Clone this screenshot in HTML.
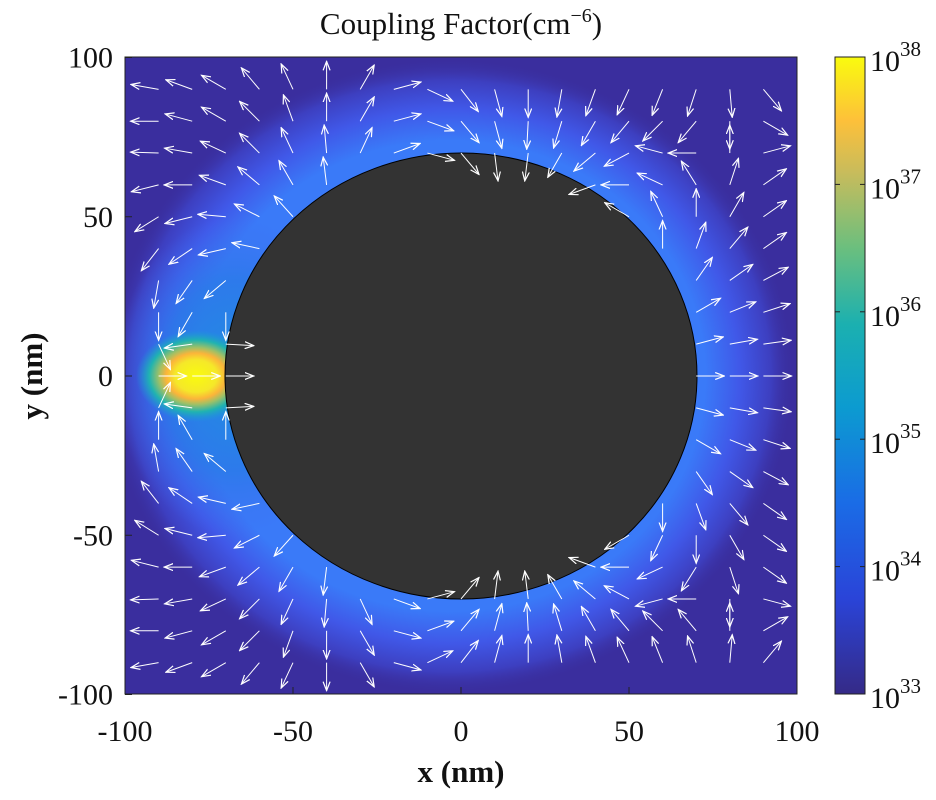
<!DOCTYPE html>
<html><head><meta charset="utf-8"><style>
body{margin:0;background:#fff}
svg text{font-family:"Liberation Serif",serif;fill:#111}
</style></head><body>
<svg id="s" width="936" height="795" xmlns="http://www.w3.org/2000/svg">
<defs>
<clipPath id="pc"><rect x="125" y="57" width="672" height="637"/></clipPath>
<radialGradient id="halo" cx="0.5" cy="0.5" r="0.5">
<stop offset="0" stop-color="#3a7af8"/><stop offset="0.74" stop-color="#3a7af8"/>
<stop offset="0.84" stop-color="#4058e8"/><stop offset="0.93" stop-color="#3d3fc0"/><stop offset="1" stop-color="#3a2e9e" stop-opacity="0"/></radialGradient>
<radialGradient id="lhalo" cx="0.5" cy="0.5" r="0.5">
<stop offset="0" stop-color="#1f8fe0"/><stop offset="0.6" stop-color="#2a7ae8" stop-opacity="0.8"/><stop offset="1" stop-color="#3f6ef2" stop-opacity="0"/></radialGradient>
<radialGradient id="hot" cx="0.5" cy="0.5" r="0.5">
<stop offset="0" stop-color="#f9fb0e"/><stop offset="0.35" stop-color="#f5e829"/><stop offset="0.5" stop-color="#fbb43a"/>
<stop offset="0.62" stop-color="#9fc066"/><stop offset="0.78" stop-color="#20b3b0"/><stop offset="1" stop-color="#1a9ad8" stop-opacity="0"/></radialGradient>
<linearGradient id="cb" x1="0" y1="1" x2="0" y2="0">
<stop offset="0" stop-color="#352a87"/><stop offset="0.15" stop-color="#2a44d8"/><stop offset="0.3" stop-color="#1a6ce6"/>
<stop offset="0.45" stop-color="#0c9bd0"/><stop offset="0.58" stop-color="#1bb0b0"/><stop offset="0.7" stop-color="#6bbf7e"/>
<stop offset="0.82" stop-color="#c9bc5b"/><stop offset="0.9" stop-color="#fdc03a"/><stop offset="1" stop-color="#f9fb0e"/></linearGradient>
<marker id="ah" markerWidth="10" markerHeight="8" refX="9" refY="4" orient="auto" markerUnits="userSpaceOnUse"><path d="M0,0.5 L9,4 L0,7.5" fill="none" stroke="#fff" stroke-width="1.2"/></marker>
</defs>
<g clip-path="url(#pc)">
<rect x="125" y="57" width="672" height="637" fill="#3a2e9e"/>
<ellipse cx="450" cy="376" rx="345" ry="318" fill="url(#halo)"/>
<ellipse cx="235" cy="376" rx="120" ry="160" fill="url(#lhalo)"/>
<ellipse cx="196" cy="376" rx="60" ry="46" fill="url(#hot)"/>
<ellipse cx="461" cy="376" rx="236" ry="223" fill="#333333" stroke="#000" stroke-width="1"/>
<g id="arrows"></g>
</g>
<rect x="125" y="57" width="672" height="637" fill="none" stroke="#222" stroke-width="1"/>
<g id="axes"></g>
<text x="461" y="34" text-anchor="middle" font-size="31">Coupling Factor(cm<tspan dy="-12" font-size="20">−6</tspan><tspan dy="12">)</tspan></text>
<text x="461" y="782" text-anchor="middle" font-size="31" font-weight="bold">x (nm)</text>
<text transform="translate(42,376) rotate(-90)" text-anchor="middle" font-size="31" font-weight="bold">y (nm)</text>
<rect x="835" y="57" width="30" height="637" fill="url(#cb)" stroke="#222"/>
<g id="cbt"></g>
</svg>
<script>
const xTicks=[-100,-50,0,50,100];
const yTicks=[-100,-50,0,50,100];
const cbExp=[33,34,35,36,37,38];
const gridX=[-90,-80,-70,-60,-50,-40,-30,-20,-10,0,10,20,30,40,50,60,70,80,90];
const gridY=[90,80,70,60,50,40,30,20,10,0,-10,-20,-30,-40,-50,-60,-70,-80,-90];
const N=null;
const angleRows=[
[170,160,150,130,115,90,60,15,-25,-52,-75,-90,-100,-110,-115,-112,-108,-85,-50],
[180,165,150,135,110,90,60,15,-20,-50,-75,-93,-107,-120,-130,-135,-130,-90,-30],
[178,170,155,135,115,95,65,20,-15,-50,-83,-97,-120,-140,-152,165,180,90,15],
[-166,180,160,140,120,97,N,N,N,N,N,N,N,-160,180,155,122,72,35],
[-148,-166,175,153,132,N,N,N,N,N,N,N,N,N,150,115,90,60,35],
[-128,-146,-167,168,N,N,N,N,N,N,N,N,N,N,N,90,70,50,35],
[-100,-125,-140,N,N,N,N,N,N,N,N,N,N,N,N,N,55,35,28],
[-90,-120,-90,N,N,N,N,N,N,N,N,N,N,N,N,N,30,22,18],
[-65,-172,-3,N,N,N,N,N,N,N,N,N,N,N,N,N,15,10,8],
[0,0,0,N,N,N,N,N,N,N,N,N,N,N,N,N,0,0,0],
[65,172,3,N,N,N,N,N,N,N,N,N,N,N,N,N,-15,-10,-8],
[90,120,90,N,N,N,N,N,N,N,N,N,N,N,N,N,-30,-22,-18],
[100,125,140,N,N,N,N,N,N,N,N,N,N,N,N,N,-55,-35,-28],
[128,146,167,-168,N,N,N,N,N,N,N,N,N,N,N,-90,-70,-50,-35],
[148,166,-175,-153,-132,N,N,N,N,N,N,N,N,N,-150,-115,-90,-60,-35],
[166,180,-160,-140,-120,-97,N,N,N,N,N,N,N,160,180,-155,-122,-72,-35],
[-178,-170,-155,-135,-115,-95,-65,-20,15,50,83,97,120,140,152,-165,180,-90,-15],
[180,-165,-150,-135,-110,-90,-60,-15,20,50,75,93,107,120,130,135,130,90,30],
[-170,-160,-150,-130,-115,-90,-60,-15,25,52,75,90,100,110,115,112,108,85,50]];
const X=v=>461+v*3.36, Y=v=>376-v*3.185;
const NS="http://www.w3.org/2000/svg";
const ax=document.getElementById('axes');
function t(p,x,y,s,a,fs){const e=document.createElementNS(NS,'text');e.setAttribute('x',x);e.setAttribute('y',y);e.setAttribute('text-anchor',a);e.setAttribute('font-size',fs);e.textContent=s;p.appendChild(e);return e;}
function l(p,x1,y1,x2,y2,c){const e=document.createElementNS(NS,'line');e.setAttribute('x1',x1);e.setAttribute('y1',y1);e.setAttribute('x2',x2);e.setAttribute('y2',y2);e.setAttribute('stroke',c||'#222');p.appendChild(e);return e;}
xTicks.forEach(v=>{const e=t(ax,X(v),741,String(v),'middle',30);


l(ax,X(v),694,X(v),687);});
yTicks.forEach(v=>{const e=t(ax,113,Y(v)+10,String(v),'end',30);


l(ax,125,Y(v),132,Y(v));});
const cb=document.getElementById('cbt');
cbExp.forEach((v,i)=>{const y=694-i*637/5;const e=t(cb,870,y+14,'10','start',30);


const s=document.createElementNS(NS,'tspan');s.setAttribute('dy','-15');s.setAttribute('font-size','21');s.textContent=v;e.appendChild(s);
l(cb,835,y,840,y);l(cb,865,y,860,y);});
const ar=document.getElementById('arrows');
const L=28;
gridY.forEach((gy,ri)=>gridX.forEach((gx,ci)=>{
 const a=angleRows[ri][ci];
 if(a===null)return;
 const px=X(gx),py=Y(gy),rad=a*Math.PI/180;
 const e=l(ar,px,py,px+Math.cos(rad)*L,py-Math.sin(rad)*L,'#fff');
 e.setAttribute('marker-end','url(#ah)');
 
 
}));
</script>
</body></html>
